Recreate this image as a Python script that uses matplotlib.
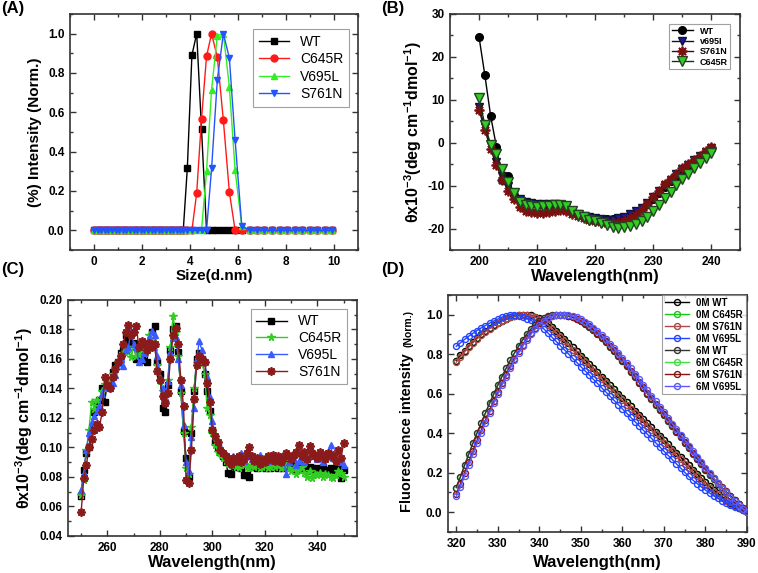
import matplotlib
matplotlib.use("Agg")
import matplotlib.pyplot as plt
from matplotlib.ticker import MultipleLocator, FormatStrFormatter

plt.rcParams['font.family'] = ['Liberation Sans', 'DejaVu Sans']
plt.rcParams['mathtext.fontset'] = 'custom'
plt.rcParams['mathtext.rm'] = 'Liberation Sans:bold'
plt.rcParams['mathtext.bf'] = 'Liberation Sans:bold'
plt.rcParams['mathtext.default'] = 'bf'

# ---------------- (A) DLS size distribution ----------------
sizes = [0.0, 0.15, 0.30, 0.45, 0.60, 0.75, 0.90, 1.05, 1.20, 1.35, 1.50, 1.65,
         1.80, 1.95, 2.10, 2.25, 2.40, 2.55, 2.70, 2.85, 3.00, 3.15, 3.30,
         3.45, 3.58, 3.72, 3.89, 4.08, 4.28, 4.48, 4.69, 4.90, 5.14, 5.39,
         5.64, 5.88, 6.16, 6.48, 6.79, 7.10, 7.42, 7.73, 8.05, 8.36, 8.68,
         8.99, 9.31, 9.62, 9.93]
dls_wt = [0] * 26 + [0.317, 0.89, 1.0, 0.517] + [0] * 19
dls_c645r = [0] * 28 + [0.19, 0.565, 0.885, 1.0, 0.88, 0.56, 0.195] + [0] * 14
dls_v695l = [0] * 30 + [0.30, 0.715, 0.99, 1.0, 0.73, 0.305, 0.02] + [0] * 12
dls_s761n = [0] * 31 + [0.315, 0.766, 1.0, 0.877, 0.459, 0.02] + [0] * 12

# ---------------- (B) far-UV CD ----------------
wl_b = list(range(200, 241))
cd_wt = [24.6, 15.7, 6.2, -1.0, -8.8, -7.7, -12.3, -13.4, -13.9, -14.1, -14.3,
         -14.4, -14.4, -14.4, -14.5, -15.1, -15.9, -16.6, -17.1, -17.4, -17.6,
         -17.7, -17.8, -17.7, -17.5, -17.2, -16.8, -16.1, -15.3, -14.3, -13.1,
         -11.7, -10.3, -8.9, -7.7, -6.5, -5.4, -4.4, -3.4, -2.4, -1.4]
cd_v695i = [8.2, 3.6, -0.8, -4.5, -7.8, -10.2, -12.0, -13.2, -13.8, -14.0, -14.2,
            -14.3, -14.3, -14.3, -14.4, -15.0, -15.8, -16.5, -17.0, -17.3, -17.5,
            -17.7, -18.0, -17.9, -17.6, -17.2, -16.7, -16.0, -15.1, -14.0, -12.7,
            -11.3, -9.9, -8.6, -7.4, -6.2, -5.1, -4.1, -3.1, -2.2, -1.3]
cd_s761n = [7.6, 3.0, -1.5, -5.3, -8.6, -11.2, -13.2, -14.9, -15.8, -16.2, -16.4,
            -16.3, -16.1, -15.9, -15.6, -15.9, -16.5, -17.1, -17.5, -17.9, -18.2,
            -18.5, -18.7, -18.8, -18.6, -18.2, -17.6, -16.8, -15.7, -14.3, -12.7,
            -11.2, -9.7, -8.4, -7.2, -6.0, -5.0, -4.0, -3.0, -2.0, -1.0]
cd_c645r = [10.3, 4.2, -0.5, -2.6, -6.2, -9.2, -11.8, -13.8, -14.6, -14.8, -14.9,
            -14.8, -14.7, -14.6, -14.5, -14.8, -15.9, -16.8, -17.4, -17.9, -18.3,
            -18.7, -19.2, -19.6, -19.8, -19.7, -19.3, -19.0, -18.2, -17.2, -16.0,
            -14.5, -12.9, -11.4, -9.9, -8.5, -7.2, -6.0, -4.8, -3.6, -2.4]

# ---------------- (C) near-UV CD ----------------
wl_c = list(range(250, 351))
nuv_wt = [0.067, 0.085, 0.096, 0.100, 0.112, 0.124, 0.128, 0.132, 0.140, 0.131,
          0.145, 0.143, 0.151, 0.156, 0.158, 0.164, 0.166, 0.176, 0.173, 0.170,
          0.171, 0.160, 0.166, 0.159, 0.164, 0.158, 0.170, 0.178, 0.182, 0.158,
          0.150, 0.127, 0.124, 0.142, 0.166, 0.180, 0.182, 0.165, 0.138, 0.111,
          0.093, 0.080, 0.110, 0.138, 0.160, 0.164, 0.160, 0.150, 0.138, 0.125,
          0.112, 0.104, 0.100, 0.097, 0.094, 0.090, 0.083, 0.082, 0.088, 0.087,
          0.088, 0.086, 0.081, 0.081, 0.080, 0.087, 0.088, 0.086, 0.087, 0.088,
          0.086, 0.087, 0.086, 0.088, 0.087, 0.086, 0.088, 0.086, 0.087, 0.089,
          0.086, 0.088, 0.085, 0.087, 0.086, 0.088, 0.084, 0.087, 0.086, 0.085,
          0.086, 0.083, 0.087, 0.085, 0.084, 0.086, 0.083, 0.084, 0.086, 0.079,
          0.085]
nuv_c645r = [0.068, 0.078, 0.098, 0.112, 0.131, 0.126, 0.132, 0.128, 0.138, 0.143,
             0.140, 0.145, 0.150, 0.154, 0.158, 0.162, 0.164, 0.168, 0.165, 0.161,
             0.168, 0.162, 0.163, 0.166, 0.168, 0.170, 0.176, 0.172, 0.168, 0.156,
             0.145, 0.138, 0.131, 0.146, 0.168, 0.189, 0.178, 0.162, 0.137, 0.110,
             0.086, 0.082, 0.114, 0.140, 0.157, 0.160, 0.158, 0.150, 0.127, 0.122,
             0.110, 0.102, 0.097, 0.096, 0.093, 0.091, 0.089, 0.088, 0.090, 0.087,
             0.086, 0.088, 0.089, 0.087, 0.086, 0.088, 0.087, 0.088, 0.086, 0.087,
             0.088, 0.086, 0.087, 0.088, 0.087, 0.088, 0.086, 0.087, 0.088, 0.086,
             0.084, 0.086, 0.082, 0.085, 0.087, 0.083, 0.080, 0.084, 0.079, 0.082,
             0.081, 0.083, 0.080, 0.082, 0.081, 0.080, 0.079, 0.081, 0.084, 0.083,
             0.080]
nuv_v695l = [0.071, 0.083, 0.098, 0.110, 0.117, 0.121, 0.125, 0.128, 0.136, 0.141,
             0.143, 0.140, 0.144, 0.149, 0.157, 0.160, 0.155, 0.166, 0.168, 0.179,
             0.170, 0.168, 0.158, 0.160, 0.164, 0.170, 0.174, 0.179, 0.176, 0.162,
             0.148, 0.140, 0.134, 0.145, 0.165, 0.174, 0.175, 0.160, 0.142, 0.115,
             0.090, 0.084, 0.107, 0.127, 0.160, 0.172, 0.166, 0.159, 0.148, 0.134,
             0.118, 0.108, 0.104, 0.100, 0.097, 0.095, 0.094, 0.090, 0.094, 0.092,
             0.093, 0.096, 0.091, 0.094, 0.096, 0.092, 0.094, 0.093, 0.095, 0.092,
             0.093, 0.094, 0.091, 0.093, 0.095, 0.092, 0.093, 0.094, 0.082, 0.090,
             0.093, 0.092, 0.088, 0.091, 0.093, 0.090, 0.092, 0.094, 0.098, 0.095,
             0.092, 0.093, 0.090, 0.095, 0.094, 0.102, 0.093, 0.092, 0.091, 0.090,
             0.088]
nuv_s761n = [0.056, 0.079, 0.088, 0.100, 0.106, 0.112, 0.116, 0.114, 0.124, 0.148,
             0.142, 0.140, 0.148, 0.153, 0.158, 0.162, 0.170, 0.178, 0.183, 0.176,
             0.178, 0.182, 0.168, 0.172, 0.170, 0.166, 0.171, 0.168, 0.170, 0.152,
             0.146, 0.135, 0.130, 0.137, 0.160, 0.176, 0.181, 0.170, 0.146, 0.128,
             0.078, 0.076, 0.098, 0.133, 0.156, 0.162, 0.160, 0.158, 0.144, 0.131,
             0.112, 0.108, 0.104, 0.098, 0.096, 0.094, 0.091, 0.089, 0.093, 0.091,
             0.094, 0.090, 0.092, 0.096, 0.100, 0.094, 0.091, 0.093, 0.089, 0.092,
             0.090, 0.094, 0.092, 0.095, 0.091, 0.094, 0.090, 0.093, 0.096, 0.094,
             0.092, 0.095, 0.097, 0.102, 0.094, 0.097, 0.092, 0.101, 0.096, 0.094,
             0.093, 0.097, 0.095, 0.092, 0.096, 0.094, 0.095, 0.091, 0.098, 0.093,
             0.103]

# ---------------- (D) intrinsic fluorescence ----------------
wl_d = list(range(320, 391))
fl_0m_wt = [0.768, 0.794, 0.818, 0.841, 0.862, 0.882, 0.900, 0.917, 0.932, 0.946,
            0.959, 0.970, 0.980, 0.988, 0.994, 0.998, 1.000, 1.000, 0.997, 0.991,
            0.982, 0.971, 0.957, 0.940, 0.920, 0.899, 0.878, 0.857, 0.836, 0.815,
            0.793, 0.772, 0.750, 0.729, 0.708, 0.686, 0.665, 0.643, 0.622, 0.601,
            0.579, 0.558, 0.536, 0.515, 0.494, 0.472, 0.451, 0.429, 0.408, 0.387,
            0.365, 0.344, 0.322, 0.301, 0.280, 0.258, 0.237, 0.215, 0.194, 0.173,
            0.152, 0.132, 0.113, 0.095, 0.078, 0.062, 0.048, 0.035, 0.023, 0.012,
            0.004]
fl_0m_c645r = fl_0m_wt  # hidden under WT in the figure
fl_0m_s761n = [0.760, 0.787, 0.812, 0.836, 0.858, 0.878, 0.897, 0.914, 0.930, 0.944,
               0.957, 0.968, 0.978, 0.986, 0.993, 0.998, 1.000, 0.999, 0.995, 0.988,
               0.978, 0.966, 0.950, 0.930, 0.909, 0.887, 0.866, 0.844, 0.823, 0.802,
               0.780, 0.759, 0.737, 0.716, 0.695, 0.673, 0.652, 0.630, 0.609, 0.588,
               0.566, 0.545, 0.523, 0.502, 0.481, 0.459, 0.438, 0.416, 0.395, 0.374,
               0.352, 0.331, 0.309, 0.288, 0.267, 0.245, 0.224, 0.202, 0.181, 0.160,
               0.140, 0.121, 0.103, 0.086, 0.070, 0.056, 0.043, 0.031, 0.020, 0.010,
               0.002]
fl_0m_v695l = [0.840, 0.858, 0.875, 0.891, 0.906, 0.920, 0.933, 0.945, 0.957, 0.968,
               0.978, 0.988, 0.996, 1.000, 0.999, 0.995, 0.988, 0.980, 0.971, 0.960,
               0.946, 0.930, 0.909, 0.887, 0.866, 0.844, 0.823, 0.802, 0.780, 0.759,
               0.737, 0.716, 0.695, 0.673, 0.652, 0.630, 0.609, 0.588, 0.566, 0.545,
               0.523, 0.502, 0.481, 0.459, 0.438, 0.416, 0.395, 0.374, 0.352, 0.331,
               0.309, 0.288, 0.267, 0.245, 0.224, 0.202, 0.181, 0.162, 0.145, 0.128,
               0.112, 0.097, 0.083, 0.070, 0.058, 0.047, 0.037, 0.028, 0.019, 0.011,
               0.004]
fl_6m_wt = [0.125, 0.180, 0.238, 0.294, 0.349, 0.401, 0.452, 0.502, 0.551, 0.598,
            0.644, 0.687, 0.729, 0.769, 0.806, 0.841, 0.873, 0.902, 0.928, 0.950,
            0.968, 0.982, 0.992, 0.998, 1.000, 1.000, 0.998, 0.993, 0.986, 0.977,
            0.966, 0.953, 0.938, 0.921, 0.902, 0.882, 0.860, 0.837, 0.814, 0.790,
            0.765, 0.738, 0.711, 0.683, 0.656, 0.628, 0.600, 0.573, 0.545, 0.518,
            0.490, 0.462, 0.435, 0.407, 0.380, 0.352, 0.325, 0.297, 0.270, 0.242,
            0.215, 0.190, 0.166, 0.143, 0.121, 0.100, 0.080, 0.060, 0.040, 0.020,
            0.000]
fl_6m_c645r = fl_6m_wt  # hidden under WT in the figure
fl_6m_s761n = [0.090, 0.145, 0.200, 0.255, 0.310, 0.364, 0.415, 0.465, 0.514, 0.562,
               0.609, 0.654, 0.697, 0.738, 0.777, 0.814, 0.849, 0.881, 0.910, 0.935,
               0.957, 0.974, 0.987, 0.995, 0.999, 1.000, 0.999, 0.995, 0.989, 0.980,
               0.970, 0.958, 0.943, 0.926, 0.907, 0.887, 0.865, 0.842, 0.819, 0.795,
               0.770, 0.743, 0.716, 0.688, 0.661, 0.633, 0.605, 0.578, 0.550, 0.523,
               0.495, 0.467, 0.440, 0.412, 0.385, 0.357, 0.330, 0.302, 0.275, 0.247,
               0.220, 0.195, 0.171, 0.148, 0.126, 0.105, 0.084, 0.064, 0.043, 0.022,
               0.002]
fl_6m_v695l = [0.080, 0.130, 0.185, 0.240, 0.295, 0.349, 0.401, 0.452, 0.502, 0.551,
               0.598, 0.644, 0.687, 0.729, 0.769, 0.806, 0.841, 0.873, 0.902, 0.928,
               0.950, 0.968, 0.982, 0.992, 0.998, 1.000, 1.000, 0.998, 0.993, 0.986,
               0.977, 0.965, 0.951, 0.935, 0.917, 0.897, 0.876, 0.854, 0.831, 0.807,
               0.782, 0.756, 0.729, 0.701, 0.673, 0.645, 0.617, 0.589, 0.561, 0.533,
               0.505, 0.477, 0.449, 0.421, 0.393, 0.365, 0.337, 0.309, 0.281, 0.253,
               0.225, 0.198, 0.172, 0.147, 0.123, 0.100, 0.078, 0.057, 0.037, 0.018,
               0.000]

TICK_FS = 8.5


def style(ax, xmaj, xmin, ymaj, ymin, yfmt):
    ax.xaxis.set_major_locator(MultipleLocator(xmaj))
    ax.xaxis.set_minor_locator(MultipleLocator(xmin))
    ax.yaxis.set_major_locator(MultipleLocator(ymaj))
    ax.yaxis.set_minor_locator(MultipleLocator(ymin))
    ax.yaxis.set_major_formatter(FormatStrFormatter(yfmt))
    ax.tick_params(which='both', direction='in', top=True, right=True,
                   width=1, color='#333333', labelsize=TICK_FS, pad=4)
    ax.tick_params(which='major', length=4)
    ax.tick_params(which='minor', length=2)
    for lab in ax.get_xticklabels() + ax.get_yticklabels():
        lab.set_fontweight('bold')
    for sp in ax.spines.values():
        sp.set_linewidth(1.2)
        sp.set_color('#333333')


fig = plt.figure(figsize=(7.58, 5.73), dpi=100)

# ---- A ----
axA = fig.add_axes([0.0923, 0.5637, 0.380, 0.412])
axA.plot(sizes, dls_wt, '-s', color='black', ms=4.5, lw=1, label='WT')
axA.plot(sizes, dls_c645r, '-o', color='#ff1a1a', ms=5, lw=1, label='C645R')
axA.plot(sizes, dls_v695l, '-^', color='#33ee22', ms=5, lw=1, label='V695L')
axA.plot(sizes, dls_s761n, '-v', color='#2255ff', ms=5, lw=1, label='S761N')
axA.set_xlim(-1, 11)
axA.set_ylim(-0.1, 1.1)
style(axA, 2, 1, 0.2, 0.1, '%.1f')
axA.xaxis.set_major_formatter(FormatStrFormatter('%d'))
axA.set_xlabel('Size(d.nm)', fontsize=11, fontweight='bold', labelpad=1)
axA.set_ylabel('(%) Intensity (Norm.)', fontsize=11, fontweight='bold')
legA = axA.legend(loc='upper right', bbox_to_anchor=(0.969, 0.936), borderaxespad=0,
                  fontsize=10, labelspacing=0.25, handlelength=2.2, fancybox=False,
                  edgecolor='#888888', borderpad=0.4)
legA.get_frame().set_linewidth(0.8)

# ---- B ----
axB = fig.add_axes([0.5937, 0.5637, 0.383, 0.412])
axB.plot(wl_b, cd_wt, '-o', color='black', mfc='black', ms=5.5, lw=1, label='WT')
axB.plot(wl_b, cd_v695i, '-v', color='#111133', mfc='#1a1aa0', mec='#111133',
         ms=6, lw=1, label='v695I')
axB.plot(wl_b, cd_s761n, '-', color='#331111', marker=(8, 2, 0), mec='#7a1010',
         mew=1.3, ms=7, lw=1, label='S761N')
axB.plot(wl_b, cd_c645r, '-v', color='#113311', mfc='#33cc22', mec='#224422',
         ms=6.5, lw=1, label='C645R')
axB.set_xlim(195, 245)
axB.set_ylim(-25, 30)
style(axB, 10, 5, 10, 5, '%d')
axB.set_xlabel('Wavelength(nm)', fontsize=12, fontweight='bold', labelpad=1)
axB.set_ylabel(r'θx10$^{-3}$(deg cm$^{-1}$dmol$^{-1}$)', fontsize=11.5,
               fontweight='bold', labelpad=2)
legB = axB.legend(loc='upper right', bbox_to_anchor=(0.966, 0.958), borderaxespad=0,
                  prop={'size': 6.5, 'weight': 'bold'}, labelspacing=0.15,
                  handlelength=2.3, fancybox=False, edgecolor='#888888', borderpad=0.3)
legB.get_frame().set_linewidth(0.8)

# ---- C ----
axC = fig.add_axes([0.0897, 0.0646, 0.381, 0.412])
axC.plot(wl_c, nuv_wt, '-s', color='black', ms=4, lw=1, label='WT')
axC.plot(wl_c, nuv_c645r, '-*', color='#33cc22', ms=5.5, lw=1, label='C645R')
axC.plot(wl_c, nuv_v695l, '-^', color='#3b5bff', ms=5, lw=1, label='V695L')
axC.plot(wl_c, nuv_s761n, '-', marker=(8, 2, 0), color='#8b1a1a', ms=6, mew=1.3,
         lw=1, label='S761N')
axC.set_xlim(245, 355)
axC.set_ylim(0.04, 0.20)
style(axC, 20, 10, 0.02, 0.01, '%.2f')
axC.set_xlabel('Wavelength(nm)', fontsize=12, fontweight='bold', labelpad=1)
axC.set_ylabel(r'θx10$^{-3}$(deg cm$^{-1}$dmol$^{-1}$)', fontsize=11.5,
               fontweight='bold', labelpad=3)
legC = axC.legend(loc='upper right', bbox_to_anchor=(0.965, 0.962), borderaxespad=0,
                  fontsize=10, labelspacing=0.2, handlelength=2.2, fancybox=False,
                  edgecolor='#888888', borderpad=0.4)
legC.get_frame().set_linewidth(0.8)

# ---- D ----
axD = fig.add_axes([0.591, 0.0716, 0.3945, 0.4136])
# (values, colour, label, zorder) - the C645R curves sit underneath the others
d_series = [
    (fl_0m_wt, '#000000', '0M WT', 3),
    (fl_0m_c645r, '#11cc11', '0M C645R', 2),
    (fl_0m_s761n, '#b04848', '0M S761N', 4),
    (fl_0m_v695l, '#2244ff', '0M V695L', 5),
    (fl_6m_wt, '#333333', '6M WT', 6),
    (fl_6m_c645r, '#44dd44', '6M C645R', 2),
    (fl_6m_s761n, '#8b1010', '6M S761N', 7),
    (fl_6m_v695l, '#5a5aff', '6M V695L', 8),
]
for vals, col, lab, z in d_series:
    axD.plot(wl_d, vals, '-o', color=col, mfc='none', mec=col, ms=4.3, mew=1,
             lw=1, label=lab, zorder=z)
axD.set_xlim(318, 390)
axD.set_ylim(-0.1, 1.1)
style(axD, 10, 5, 0.2, 0.1, '%.1f')
axD.set_xlabel('Wavelength(nm)', fontsize=12, fontweight='bold', labelpad=4)
axD.text(-0.137, 0.42, 'Fluorescence intensity', transform=axD.transAxes,
         rotation=90, ha='center', va='center', fontsize=10.5, fontweight='bold')
axD.text(-0.133, 0.86, '(Norm.)', transform=axD.transAxes, rotation=90,
         ha='center', va='center', fontsize=7.5, fontweight='bold')
legD = axD.legend(loc='upper right', bbox_to_anchor=(0.997, 1.0), borderaxespad=0,
                  prop={'size': 7, 'weight': 'bold'}, labelspacing=0.2,
                  handlelength=2.4, fancybox=False, edgecolor='#888888', borderpad=0.3)
legD.get_frame().set_linewidth(0.8)

# panel letters
for x, y, s in [(0.002, 0.998, '(A)'), (0.503, 0.998, '(B)'),
                (0.002, 0.543, '(C)'), (0.503, 0.543, '(D)')]:
    fig.text(x, y, s, ha='left', va='top', fontsize=12, fontweight='bold')

fig.savefig('out.png', dpi=100)
